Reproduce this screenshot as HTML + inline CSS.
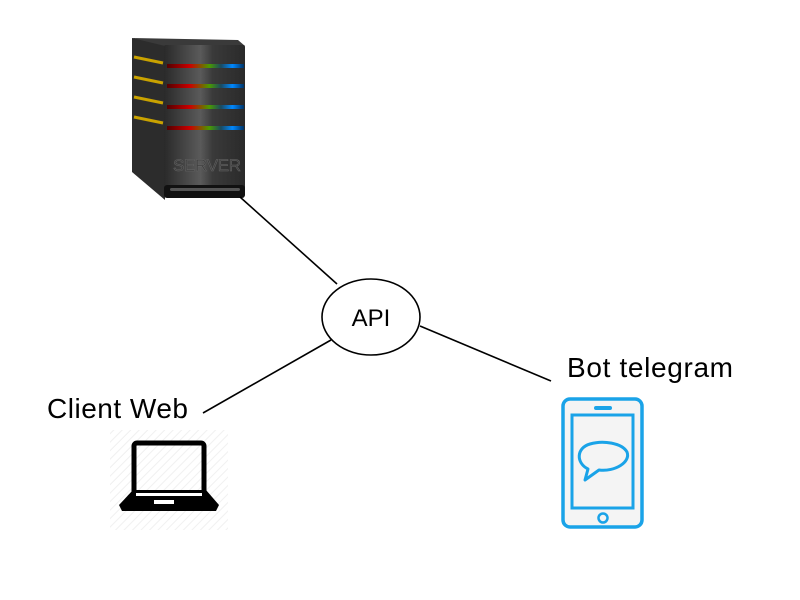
<!DOCTYPE html>
<html><head><meta charset="utf-8"><style>html,body{margin:0;padding:0;background:#fff}svg{display:block}</style></head>
<body>
<svg width="800" height="600" viewBox="0 0 800 600" xmlns="http://www.w3.org/2000/svg">
<defs>
<linearGradient id="front" x1="0" x2="1" y1="0" y2="0">
<stop offset="0" stop-color="#2a2a2a"/><stop offset="0.45" stop-color="#5a5a5a"/><stop offset="0.6" stop-color="#3a3a3a"/><stop offset="1" stop-color="#2a2a2a"/></linearGradient>
<linearGradient id="stripe" x1="0" x2="1" y1="0" y2="0"><stop offset="0" stop-color="#500"/><stop offset="0.3" stop-color="#c00"/><stop offset="0.55" stop-color="#4a9a00"/><stop offset="0.7" stop-color="#1a4a60"/><stop offset="0.85" stop-color="#08f"/><stop offset="1" stop-color="#036"/></linearGradient>
<pattern id="hatch" width="6" height="6" patternUnits="userSpaceOnUse" patternTransform="rotate(45)"><rect width="6" height="6" fill="#fff"/><line x1="0" y1="0" x2="0" y2="6" stroke="#f0f0f0" stroke-width="2"/></pattern>
</defs>
<!-- server -->
<polygon points="132,38 165,44 165,200 132,172" fill="#2c2c2c"/>
<polygon points="132,38 238,40 245,46 165,46" fill="#3a3a3a"/>
<rect x="164" y="45" width="81" height="150" rx="2" fill="url(#front)"/>
<rect x="164" y="185" width="81" height="13" rx="3" fill="#111"/>
<rect x="170" y="188" width="70" height="3" rx="1.5" fill="#555"/>
<g fill="url(#stripe)">
<rect x="167" y="64" width="77" height="4"/><rect x="167" y="84" width="77" height="4"/><rect x="167" y="105" width="77" height="4"/><rect x="167" y="126" width="77" height="4"/></g>
<g stroke="#c9a200" stroke-width="3">
<line x1="134" y1="57" x2="163" y2="63"/><line x1="134" y1="77" x2="163" y2="83"/><line x1="134" y1="97" x2="163" y2="103"/><line x1="134" y1="117" x2="163" y2="123"/></g>
<text x="173" y="171" font-family="Liberation Sans, sans-serif" font-size="17" fill="#3e3e3e" stroke="#666" stroke-width="0.5" textLength="68">SERVER</text>
<!-- connectors -->
<g stroke="#000" stroke-width="1.6">
<line x1="240" y1="197" x2="337" y2="284"/>
<line x1="331" y1="340" x2="203" y2="413"/>
<line x1="420" y1="326" x2="551" y2="381"/></g>
<ellipse cx="371" cy="317" rx="49" ry="38" fill="#fff" stroke="#000" stroke-width="1.6"/>
<text x="371" y="326" text-anchor="middle" font-family="Liberation Sans, sans-serif" font-size="24">API</text>
<text x="47" y="418" font-family="Liberation Sans, sans-serif" font-size="28" textLength="141">Client Web</text>
<text x="567" y="377" font-family="Liberation Sans, sans-serif" font-size="28" textLength="166">Bot telegram</text>
<!-- laptop -->
<rect x="110" y="430" width="118" height="100" fill="url(#hatch)"/>
<rect x="134" y="443" width="70" height="51" rx="3" fill="none" stroke="#000" stroke-width="5"/>
<polygon points="133,490 206,490 219,505 216,511 122,511 119,505" fill="#000"/>
<rect x="136" y="493" width="66" height="3" fill="#fff"/>
<rect x="154" y="500" width="20" height="4" fill="#fff"/>
<!-- phone -->
<rect x="563" y="399" width="79" height="128" rx="7" fill="#f4f4f4" stroke="#1aa3e8" stroke-width="3.5"/>
<rect x="572" y="415" width="61" height="93" fill="#f4f4f4" stroke="#1aa3e8" stroke-width="3"/>
<line x1="596" y1="408" x2="610" y2="408" stroke="#1aa3e8" stroke-width="4" stroke-linecap="round"/>
<circle cx="603" cy="518" r="4.5" fill="none" stroke="#1aa3e8" stroke-width="2.5"/>
<path d="M588,469 C576,463 576,448 590,444 C603,440 622,443 627,452 C631,462 615,472 599,470 L585,480 Z" fill="none" stroke="#1aa3e8" stroke-width="3" stroke-linejoin="round"/>
</svg>
</body></html>
